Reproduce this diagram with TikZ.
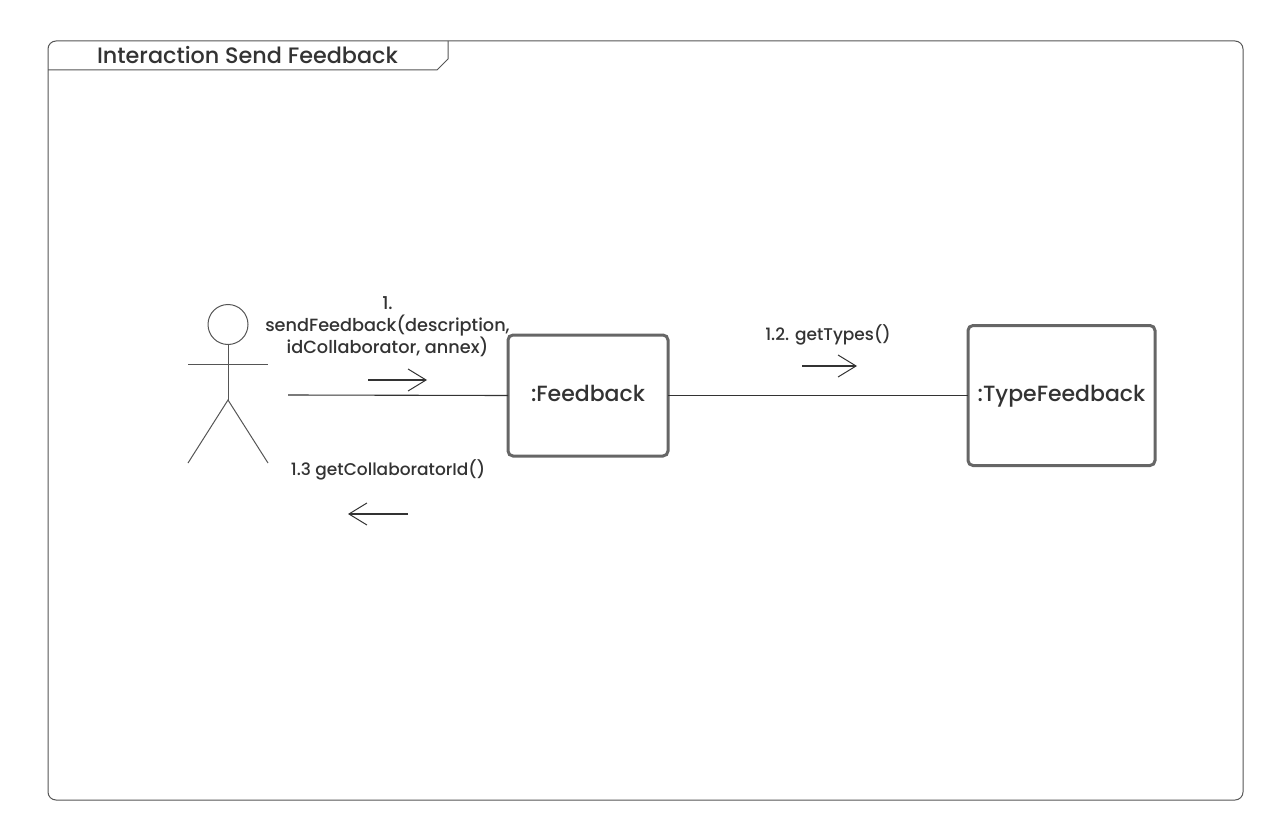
\documentclass[tikz,border=0pt]{standalone}
\usepackage{fontspec}
\setmainfont{Poppins Medium}
\usetikzlibrary{arrows.meta, positioning}
\definecolor{inkdark}{RGB}{51,51,51}
\definecolor{boxgray}{RGB}{102,102,102}
\definecolor{framegray}{RGB}{85,85,85}

\begin{document}
\begin{tikzpicture}[
        x=1pt, y=-1pt,
        objbox/.style={rectangle, draw=boxgray, line width=3pt, rounded corners=5pt, outer sep=0pt, text=inkdark, align=center, text height=17pt, text depth=5pt, font=\fontsize{22}{26}\selectfont},
        msg/.style={text=inkdark, align=center, inner sep=0pt, font=\fontsize{17}{22}\selectfont},
        link/.style={draw=inkdark, line width=1.1pt},
        flow/.style={draw=inkdark, line width=1.3pt, -{Straight Barb[length=18pt, width=22pt, line width=1pt]}},
        stick/.style={draw=framegray, line width=1pt}
    ]
        \useasboundingbox (0,0) rectangle (1284,837);
        % frame and tab
        \draw[stick, rounded corners=8pt] (48,41) rectangle (1243,800);
        \draw[stick] (48,70) -- (437,70) -- (448,59) -- (448,41);
        \node[text=inkdark, inner sep=0pt, font=\fontsize{22.3}{26}\selectfont] (title) at (247.5,55) {Interaction Send Feedback};

        % actor
        \node[circle, stick, minimum size=40pt, inner sep=0pt, outer sep=0pt] (head) at (228,324.5) {};
        \coordinate (hip) at (228,400);
        \coordinate (armL) at (188,364);
        \coordinate (armR) at (268,364);
        \coordinate (footL) at (188,463);
        \coordinate (footR) at (268,463);
        \draw[stick] (head.south) -- (hip);
        \draw[stick] (armL) -- (armR);
        \draw[stick] (footL) -- (hip) -- (footR);

        % objects
        \node[objbox, minimum width=160pt, minimum height=121pt] (feedback) at (588,395.5) {:Feedback};
        \node[objbox, minimum width=187pt, minimum height=140pt, right=300pt of feedback] (typefeedback) {:TypeFeedback};

        % links
        \coordinate (actorend) at (288,395);
        \draw[link] (actorend) -- (feedback.west);
        \draw[link] (feedback.east) -- (typefeedback.west);

        % messages
        \coordinate (sendA) at (368,380);
        \coordinate (sendB) at (427,380);
        \coordinate (typesA) at (802,366);
        \coordinate (typesB) at (857,366);
        \coordinate (idA) at (408,514);
        \coordinate (idB) at (348,514);
        \draw[flow] (sendA) -- (sendB);
        \draw[flow] (typesA) -- (typesB);
        \draw[flow] (idA) -- (idB);
        \node[msg, font=\fontsize{17.7}{22}\selectfont] (sendlabel) at (387.5,327) {1.\\sendFeedback(description,\\idCollaborator, annex)};
        \node[msg] (typeslabel) at (828,335) {1.2. getTypes()};
        \node[msg] (idlabel) at (388,469.5) {1.3 getCollaboratorId()};
    \end{tikzpicture}
\end{document}
